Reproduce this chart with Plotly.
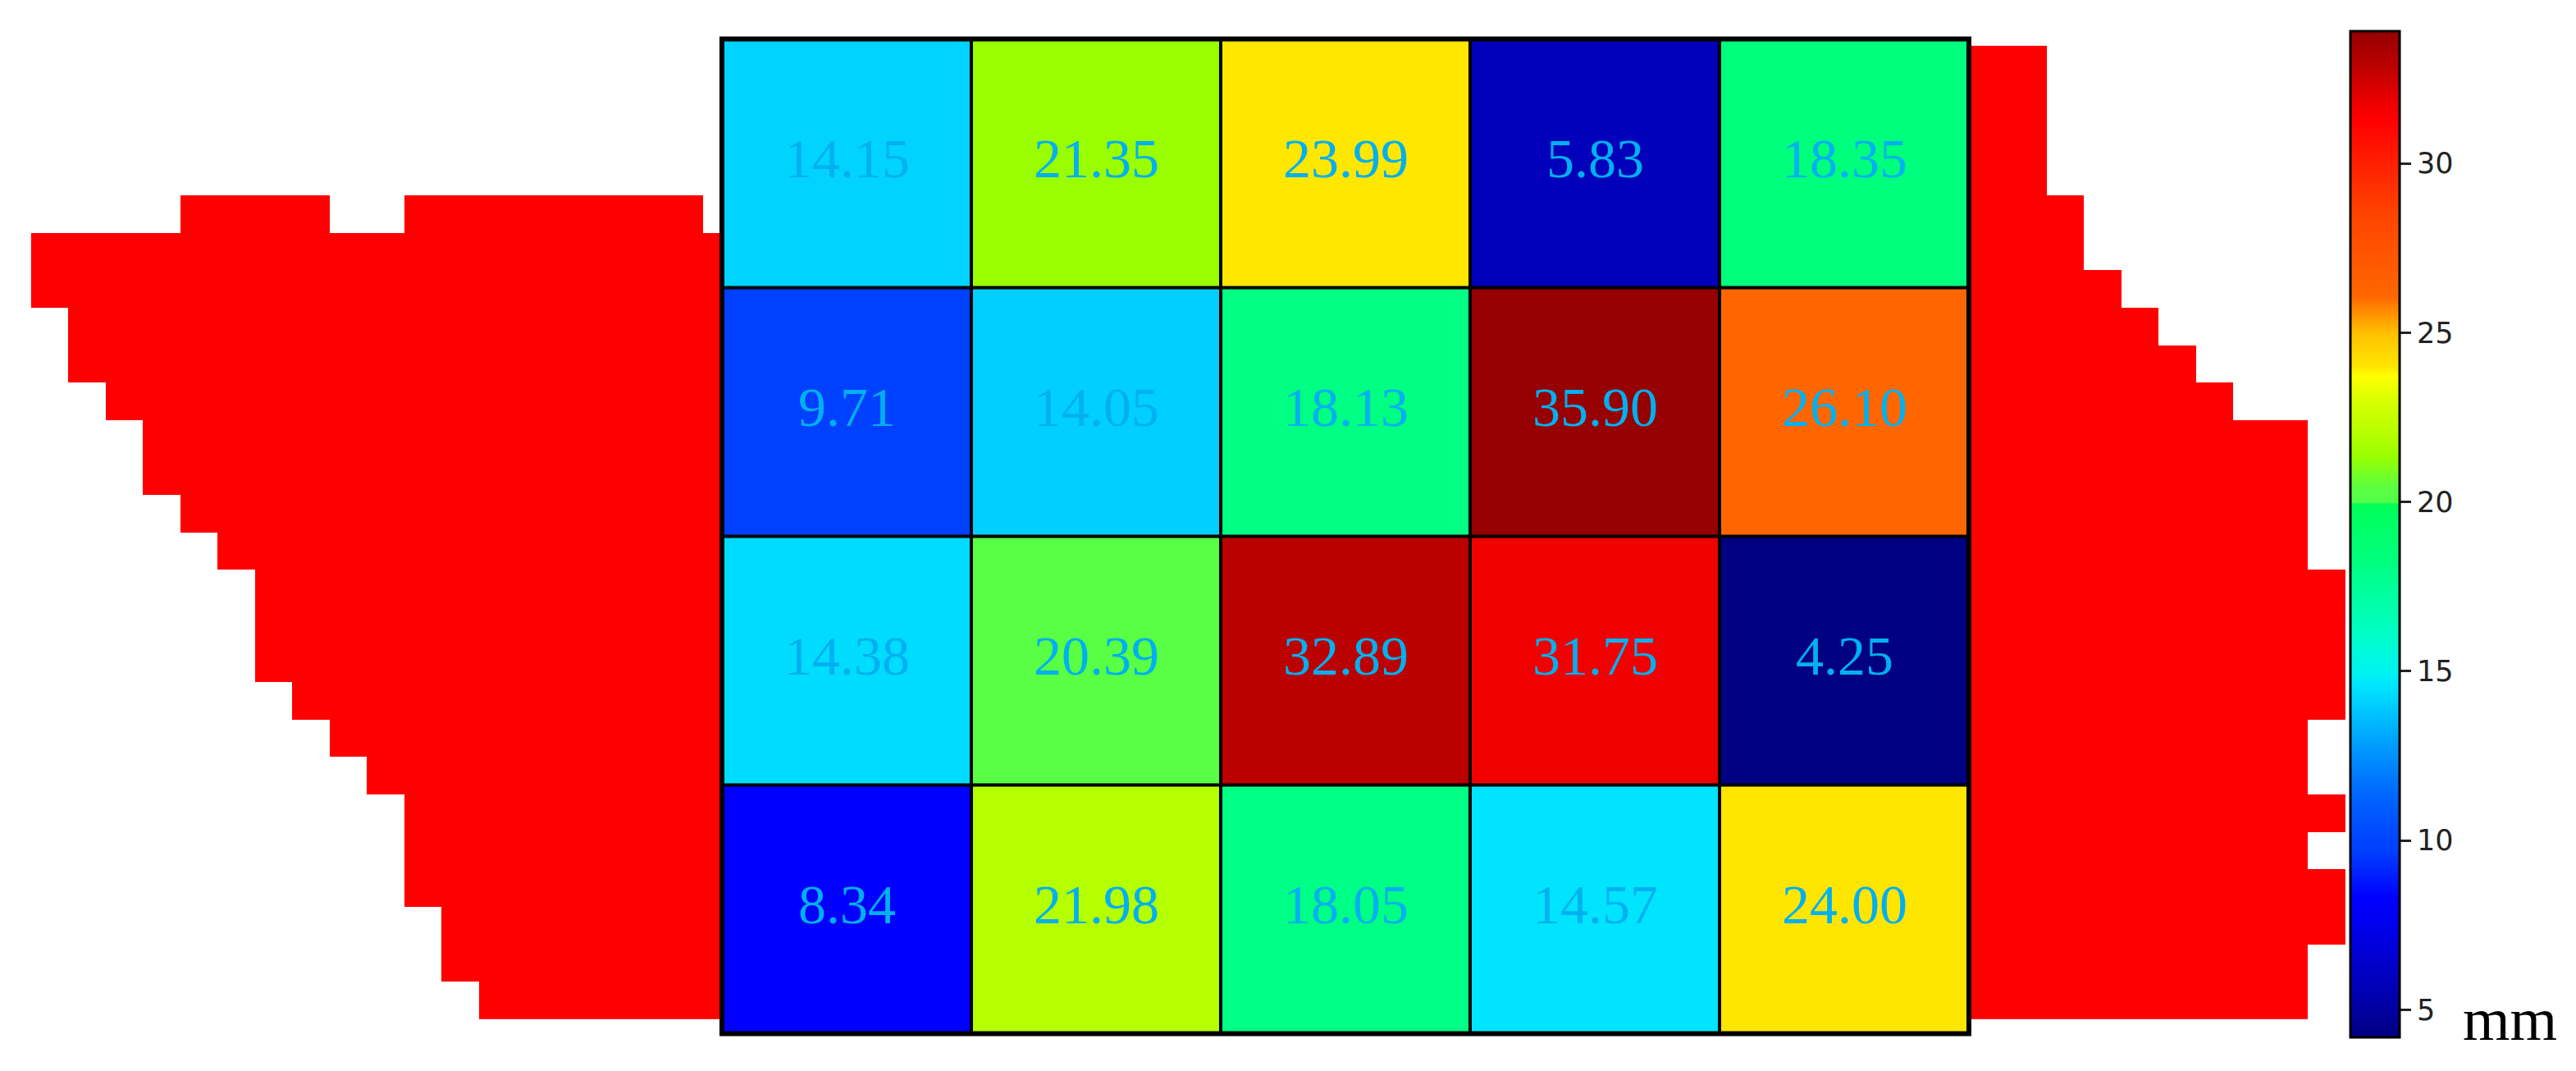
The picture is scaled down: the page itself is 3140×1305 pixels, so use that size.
import plotly.graph_objects as go

# ---------------- data ----------------
cell_values = [
    [14.15, 21.35, 23.99, 5.83, 18.35],
    [9.71, 14.05, 18.13, 35.90, 26.10],
    [14.38, 20.39, 32.89, 31.75, 4.25],
    [8.34, 21.98, 18.05, 14.57, 24.00],
]
colorbar_ticks = [5, 10, 15, 20, 25, 30]
unit_label = "mm"

# red region mask (grid of square mask cells, row by row)
left_region_start_col = [None, None, None, None, None,
                         0, 0, 1, 1, 2, 3, 3, 4, 5, 6, 6, 6, 7, 8, 9, 10, 10, 10, 11, 11, 12]
left_region_top_bumps = [(4, 8), (10, 18)]      # column spans in the bump row
left_region_bump_row = 4
right_region_end_col = [54, 54, 54, 54, 55, 55, 56, 57, 58, 59, 61, 61, 61, 61,
                        62, 62, 62, 62, 61, 61, 62, 61, 62, 62, 61, 61]

# colour map (value -> colour)
cmap_values = [4.2, 5.2, 6.4, 7.6, 8.34, 9.71, 10.0, 11.3, 12.5, 13.7, 14.05, 14.57, 15.0,
               16.3, 18.2, 19.95, 20.0, 20.39, 21.35, 21.98, 22.9, 23.75, 24.0, 25.0,
               26.1, 28.5, 30.0, 31.25, 31.75, 32.89, 33.92]
cmap_colors = ["#000080", "#0000A8", "#0000CC", "#0000F0", "#0000FF", "#0040FF", "#0044FF",
               "#0064FF", "#0090FF", "#00C0FF", "#00CFFF", "#00E4FF", "#00F4F0",
               "#00FFC0", "#00FF80", "#00FF58", "#50FF48", "#58FF44", "#99FF00", "#B4FF00",
               "#D4FF00", "#FFFF00", "#FFE600", "#FFC000", "#FF6600", "#FF4400", "#FF2000",
               "#FF0000", "#F00000", "#BB0000", "#960000"]

# ---------------- geometry / style ----------------
W, H = 3140, 1305
GRID_L, GRID_R, GRID_T, GRID_B = 880.0, 2400.0, 47.5, 1259.5
n_rows, n_cols = len(cell_values), len(cell_values[0])
cw = (GRID_R - GRID_L) / n_cols
ch = (GRID_B - GRID_T) / n_rows

MASK_X0, MASK_DX = 37.9, 45.5
MASK_Y0, MASK_DY = 55.8, 45.6
RIGHT_START_COL = 51
LEFT_END_COL = 19
n_mask_rows = len(right_region_end_col)
n_mask_cols = max(right_region_end_col)

zmin, zmax = cmap_values[0], cmap_values[-1]
colorscale = [[(v - zmin) / (zmax - zmin), c] for v, c in zip(cmap_values, cmap_colors)]
colorscale[0][0] = 0.0
colorscale[-1][0] = 1.0

# build mask
mask = [[None] * n_mask_cols for _ in range(n_mask_rows)]
for r in range(n_mask_rows):
    s = left_region_start_col[r]
    if s is not None:
        for c in range(s, LEFT_END_COL):
            mask[r][c] = 1
    for c in range(RIGHT_START_COL, right_region_end_col[r]):
        mask[r][c] = 1
for a, b in left_region_top_bumps:
    for c in range(a, b):
        mask[left_region_bump_row][c] = 1

fig = go.Figure()

fig.add_trace(go.Heatmap(
    z=mask, x0=MASK_X0 + MASK_DX / 2, dx=MASK_DX, y0=MASK_Y0 + MASK_DY / 2, dy=MASK_DY,
    colorscale=[[0, "#FE0000"], [1, "#FE0000"]], showscale=False, hoverinfo="skip",
))

fig.add_trace(go.Heatmap(
    z=cell_values, x0=GRID_L + cw / 2, dx=cw, y0=GRID_T + ch / 2, dy=ch,
    colorscale=colorscale, zmin=zmin, zmax=zmax,
    colorbar=dict(
        thickness=60, thicknessmode="pixels",
        len=1226, lenmode="pixels",
        x=2865 / W, xanchor="left", xpad=0,
        y=1 - 650.5 / H, yanchor="middle", ypad=0,
        outlinecolor="black", outlinewidth=3,
        tickvals=colorbar_ticks, ticks="outside", ticklen=13, tickwidth=2.5, tickcolor="#222",
        tickfont=dict(family="DejaVu Sans", size=35, color="#222"),
    ),
))

annotations = []
for i, row in enumerate(cell_values):
    for j, v in enumerate(row):
        annotations.append(dict(
            text=f"{v:.2f}", x=GRID_L + (j + 0.5) * cw, y=GRID_T + (i + 0.5) * ch,
            xref="x", yref="y", showarrow=False, xanchor="center", yanchor="middle",
            yshift=6, font=dict(family="Liberation Serif", size=68, color="#00B0F0")))
annotations.append(dict(text=unit_label, x=3000, y=1242, xref="x", yref="y",
                        xanchor="left", yanchor="middle", showarrow=False,
                        font=dict(family="Liberation Serif", size=74, color="black")))

shapes = []
for k in range(1, n_cols):
    xx = GRID_L + k * cw
    shapes.append(dict(type="line", x0=xx, x1=xx, y0=GRID_T, y1=GRID_B,
                       line=dict(color="black", width=4), layer="above"))
for k in range(1, n_rows):
    yy = GRID_T + k * ch
    shapes.append(dict(type="line", x0=GRID_L, x1=GRID_R, y0=yy, y1=yy,
                       line=dict(color="black", width=4), layer="above"))
shapes.append(dict(type="rect", x0=GRID_L, x1=GRID_R, y0=GRID_T, y1=GRID_B,
                   line=dict(color="black", width=6), layer="above"))

fig.update_layout(
    width=W, height=H, margin=dict(l=0, r=0, t=0, b=0),
    paper_bgcolor="white", plot_bgcolor="white",
    xaxis=dict(range=[0, W], visible=False, fixedrange=True),
    yaxis=dict(range=[H, 0], visible=False, fixedrange=True),
    shapes=shapes,
    showlegend=False,
    annotations=annotations,
)

fig.write_html("out.html", config={"displayModeBar": False},
               post_script="document.body.style.margin='0';")
